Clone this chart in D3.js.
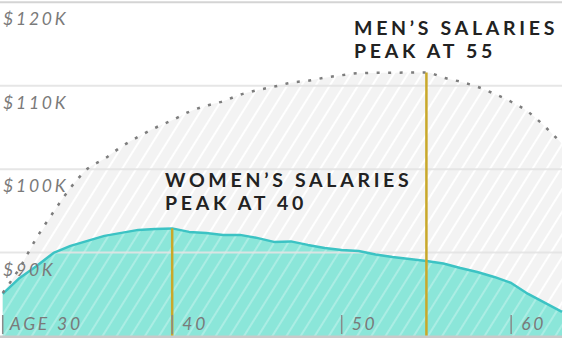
<!DOCTYPE html>
<html>
<head>
<meta charset="utf-8">
<script src="https://cdn.jsdelivr.net/npm/d3@7"></script>
<style>
  html, body { margin: 0; padding: 0; background: #fff; }
  svg { display: block; }
  text { font-family: Lato, "Open Sans", sans-serif; }
</style>
</head>
<body>
<svg id="chart" width="564" height="338"></svg>
<script>
// Average salary by age, in dollars
const ages = [30, 31, 32, 33, 34, 35, 36, 37, 38, 39, 40, 41, 42, 43, 44, 45, 46,
              47, 48, 49, 50, 51, 52, 53, 54, 55, 56, 57, 58, 59, 60, 61, 62, 63];
const menSalary = [85160, 88160, 91760, 94880, 97760, 100040, 101240, 102680, 103880,
                   104960, 105860, 106880, 107600, 108140, 108920, 109460, 109880,
                   110360, 110600, 110960, 111260, 111500, 111540, 111560, 111580,
                   111600, 110960, 110480, 109880, 109040, 108080, 106880, 105080, 103040];
const womenSalary = [85040, 86960, 88400, 89960, 90800, 91400, 92000, 92360, 92720,
                     92840, 92900, 92480, 92360, 92120, 92120, 91760, 91280, 91340,
                     90920, 90560, 90320, 90200, 89780, 89480, 89240, 89000, 88700,
                     88160, 87680, 87080, 86360, 85040, 83960, 82880];

const yTicks = [90000, 100000, 110000, 120000];
const yTickLabels = ["$90K", "$100K", "$110K", "$120K"];
const xTicks = [30, 40, 50, 60];
const xTickLabels = ["AGE 30", "40", "50", "60"];

const menPeakAge = 55;
const womenPeakAge = 40;
const menNote = ["MEN\u2019S SALARIES", "PEAK AT 55"];
const womenNote = ["WOMEN\u2019S SALARIES", "PEAK AT 40"];

const W = 564, H = 338;
const svg = d3.select("#chart");

const x = d3.scaleLinear().domain([30, 63]).range([2.7, 562]);
const y = d3.scaleLinear().domain([80000, 120000]).range([336, 2.3]);

const men = ages.map((a, i) => ({ age: a, v: menSalary[i] }));
const women = ages.map((a, i) => ({ age: a, v: womenSalary[i] }));

// diagonal hatch fills
const defs = svg.append("defs");
function hatch(id, bg, stripe, op) {
  const p = defs.append("pattern")
    .attr("id", id)
    .attr("patternUnits", "userSpaceOnUse")
    .attr("width", 12).attr("height", 12)
    .attr("patternTransform", "rotate(32)");
  p.append("rect").attr("width", 12).attr("height", 12).attr("fill", bg);
  p.append("rect").attr("x", 0).attr("width", 2).attr("height", 12)
    .attr("fill", stripe).attr("fill-opacity", op);
}
hatch("hatchMen", "#f3f3f3", "#ffffff", 1);
hatch("hatchWomen", "#8be6d9", "#ffffff", 0.28);

const menArea = d3.area().x(d => x(d.age)).y0(y(80000)).y1(d => y(d.v))
  .curve(d3.curveMonotoneX);
const womenArea = d3.area().x(d => x(d.age)).y0(y(80000)).y1(d => y(d.v));
const menLine = d3.line().x(d => x(d.age)).y(d => y(d.v)).curve(d3.curveMonotoneX);
const womenLine = d3.line().x(d => x(d.age)).y(d => y(d.v));

svg.append("path").datum(men).attr("d", menArea).attr("fill", "url(#hatchMen)");
svg.append("path").datum(women).attr("d", womenArea).attr("fill", "url(#hatchWomen)");

// horizontal gridlines
svg.append("g").selectAll("line").data(yTicks).join("line")
  .attr("x1", 0).attr("x2", 562)
  .attr("y1", d => y(d)).attr("y2", d => y(d))
  .attr("stroke", (d, i) => i === yTicks.length - 1 ? "#cfcfcf" : "#e3e3e3")
  .attr("stroke-width", 2)
  .attr("stroke-opacity", 0.9);

svg.append("path").datum(women).attr("d", womenLine)
  .attr("fill", "none").attr("stroke", "#3cc3c4").attr("stroke-width", 2.5)
  .attr("stroke-linejoin", "round");

svg.append("path").datum(men).attr("d", menLine)
  .attr("fill", "none").attr("stroke", "#7d7d7d").attr("stroke-width", 2.5)
  .attr("stroke-dasharray", "3 8.5");

// y labels sit just under their gridlines
svg.append("g").selectAll("text").data(yTicks).join("text")
  .attr("x", 3).attr("y", d => y(d) + 23)
  .attr("font-size", 17.5).attr("font-style", "italic")
  .attr("letter-spacing", 2.8).attr("fill", "#7a7a7a")
  .text((d, i) => yTickLabels[i]);

// peak markers
function peakLine(age, series) {
  const v = series.find(d => d.age === age).v;
  svg.append("line")
    .attr("x1", x(age)).attr("x2", x(age))
    .attr("y1", y(v)).attr("y2", H)
    .attr("stroke", "#c9a82a").attr("stroke-width", 2.5);
}
peakLine(womenPeakAge, women);
peakLine(menPeakAge, men);

// bottom rule
svg.append("rect").attr("x", 0).attr("y", 335.5).attr("width", 562).attr("height", 3)
  .attr("fill", "#c9c9c9");

// x ticks: short bar plus label
const xg = svg.append("g").selectAll("g").data(xTicks).join("g")
  .attr("transform", d => `translate(${x(d)},0)`);
xg.append("line").attr("x1", 0).attr("x2", 0).attr("y1", 315).attr("y2", 334)
  .attr("stroke", "#8a8a8a").attr("stroke-width", 1.5);
xg.append("text").attr("x", (d, i) => i === 0 ? 7 : 10).attr("y", 330)
  .attr("font-size", 17.5).attr("font-style", "italic")
  .attr("letter-spacing", 2.8).attr("fill", "#7a7a7a")
  .text((d, i) => xTickLabels[i]);

// annotations
function note(lines, px, py) {
  const t = svg.append("text").attr("x", px).attr("y", py)
    .attr("font-size", 19.5).attr("font-weight", 700)
    .attr("letter-spacing", 3.7).attr("fill", "#222");
  lines.forEach((s, i) => t.append("tspan").attr("x", px).attr("dy", i ? 23 : 0).text(s));
}
note(menNote, 354, 35);
note(womenNote, 165, 187);
</script>
</body>
</html>
